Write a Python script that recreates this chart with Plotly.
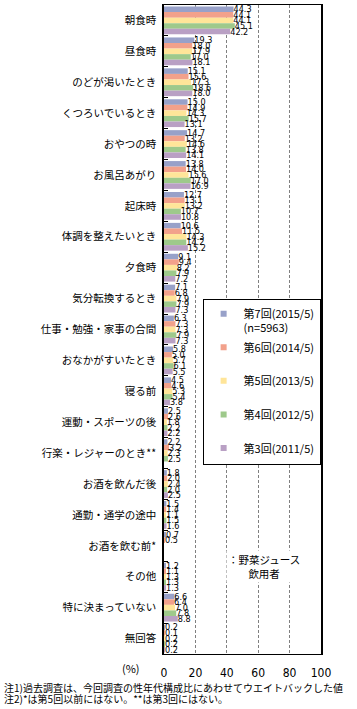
import plotly.graph_objects as go

categories = [
    "朝食時", "昼食時", "のどが渇いたとき", "くつろいでいるとき", "おやつの時",
    "お風呂あがり", "起床時", "体調を整えたいとき", "夕食時", "気分転換するとき",
    "仕事・勉強・家事の合間", "おなかがすいたとき", "寝る前", "運動・スポーツの後",
    "行楽・レジャーのとき**", "お酒を飲んだ後", "通勤・通学の途中", "お酒を飲む前*",
    "その他", "特に決まっていない", "無回答",
]

r7 = [44.3, 19.3, 15.1, 15.0, 14.7, 13.8, 12.7, 10.6, 9.1, 7.1, 6.3, 5.8, 4.5, 2.5, 2.2, 1.8, 1.5, 0.7, 1.2, 6.6, 0.2]
r6 = [44.1, 18.0, 15.6, 14.9, 13.2, 14.0, 13.1, 11.5, 9.4, 6.8, 7.3, 5.0, 4.6, 2.6, 3.2, 2.0, 1.4, 0.5, 1.1, 6.4, 0.1]
r5 = [44.1, 17.9, 17.3, 14.3, 14.6, 15.6, 13.2, 14.3, 8.2, 7.9, 7.3, 5.7, 5.3, 1.8, 2.3, 2.4, 1.1, None, 1.3, 7.0, 0.2]
r4 = [45.1, 17.0, 18.6, 15.7, 13.8, 17.0, 10.7, 14.2, 7.9, 7.9, 7.9, 6.1, 5.4, 2.2, 2.5, 2.0, 1.5, None, 1.3, 7.8, 0.2]
r3 = [42.2, 18.1, 18.0, 13.1, 14.1, 16.9, 10.8, 15.2, 7.2, 7.3, 7.3, 5.5, 3.8, 2.2, None, 2.5, 1.6, None, 1.3, 8.8, 0.2]

series_values = [r7, r6, r5, r4, r3]
series_names = [
    "第7回(2015/5)<br>(n=5963)",
    "第6回(2014/5)<br> ",
    "第5回(2013/5)<br> ",
    "第4回(2012/5)<br> ",
    "第3回(2011/5)",
]
colors = ["#98a1c9", "#f2a18b", "#ffe599", "#9ec98b", "#b9a0c4"]

x_ticks = [0, 20, 40, 60, 80, 100]

fig = go.Figure()

for vals, col in zip(series_values, colors):
    fig.add_trace(go.Bar(
        y=categories, x=vals, orientation="h",
        marker=dict(color=col, line=dict(width=0)),
        texttemplate="%{x:.1f}", textposition="outside",
        textfont=dict(size=9, family="Liberation Sans Narrow, DejaVu Sans Condensed, sans-serif", color="black"),
        constraintext="none", cliponaxis=False,
        showlegend=False, hoverinfo="skip",
    ))

for i, (name, col) in enumerate(zip(series_names, colors)):
    fig.add_trace(go.Scatter(
        x=[None], y=[None], mode="markers",
        marker=dict(symbol="square", size=6, color=col),
        name=name, legendgroup=f"g{i}", showlegend=True,
    ))

fig.update_layout(
    width=357, height=709,
    margin=dict(l=164, r=36, t=5, b=55),
    plot_bgcolor="white", paper_bgcolor="white",
    barmode="group", bargap=0.1, bargroupgap=0,
    font=dict(family="Noto Sans CJK JP", size=10, color="black"),
    legend=dict(
        x=0.246, y=0.547, xanchor="left", yanchor="top",
        bordercolor="black", borderwidth=1, bgcolor="white",
        font=dict(size=11, family="Noto Sans CJK JP"),
        tracegroupgap=2, valign="top", itemwidth=30,
    ),
    xaxis=dict(
        range=[0, 100], tickvals=x_ticks,
        showgrid=True, gridcolor="#808080", griddash="3px,2px", gridwidth=1,
        showline=True, linecolor="black", linewidth=1, mirror=True,
        ticks="", zeroline=False,
        tickfont=dict(size=12, family="Liberation Sans Narrow, DejaVu Sans Condensed, sans-serif"),
        ticklabelstandoff=8,
    ),
    yaxis=dict(
        autorange="reversed",
        showline=True, linecolor="black", linewidth=1.5, mirror=True,
        ticks="inside", tickson="boundaries", ticklen=4, tickcolor="black",
        showgrid=False, ticklabelstandoff=4,
        tickfont=dict(size=10.5, family="Noto Sans CJK JP"),
    ),
    annotations=[
        dict(text="(%)", xref="paper", yref="paper",
             x=(131 - 164) / 156.5, y=-(668 - 654) / 649,
             xanchor="center", yanchor="middle",
             showarrow=False, font=dict(size=11, family="Noto Sans CJK JP")),
        dict(text="：野菜ジュース<br>飲用者", xref="paper", yref="paper",
             x=(264 - 164) / 156.5, y=(654 - 566) / 649,
             xanchor="center", yanchor="middle",
             showarrow=False, bgcolor="white", font=dict(size=10.5, family="Noto Sans CJK JP")),
        dict(text="注1)過去調査は、今回調査の性年代構成比にあわせてウエイトバックした値",
             xref="paper", yref="paper", x=(3 - 164) / 156.5, y=-(687 - 654) / 649,
             xanchor="left", yanchor="middle", showarrow=False,
             font=dict(size=10, family="Noto Sans CJK JP")),
        dict(text="注2)*は第5回以前にはない。**は第3回にはない。",
             xref="paper", yref="paper", x=(3 - 164) / 156.5, y=-(698 - 654) / 649,
             xanchor="left", yanchor="middle", showarrow=False,
             font=dict(size=10, family="Noto Sans CJK JP")),
    ],
)

fig.write_html("out.html", config={"displayModeBar": False},
               post_script="document.body.style.margin='0';")
